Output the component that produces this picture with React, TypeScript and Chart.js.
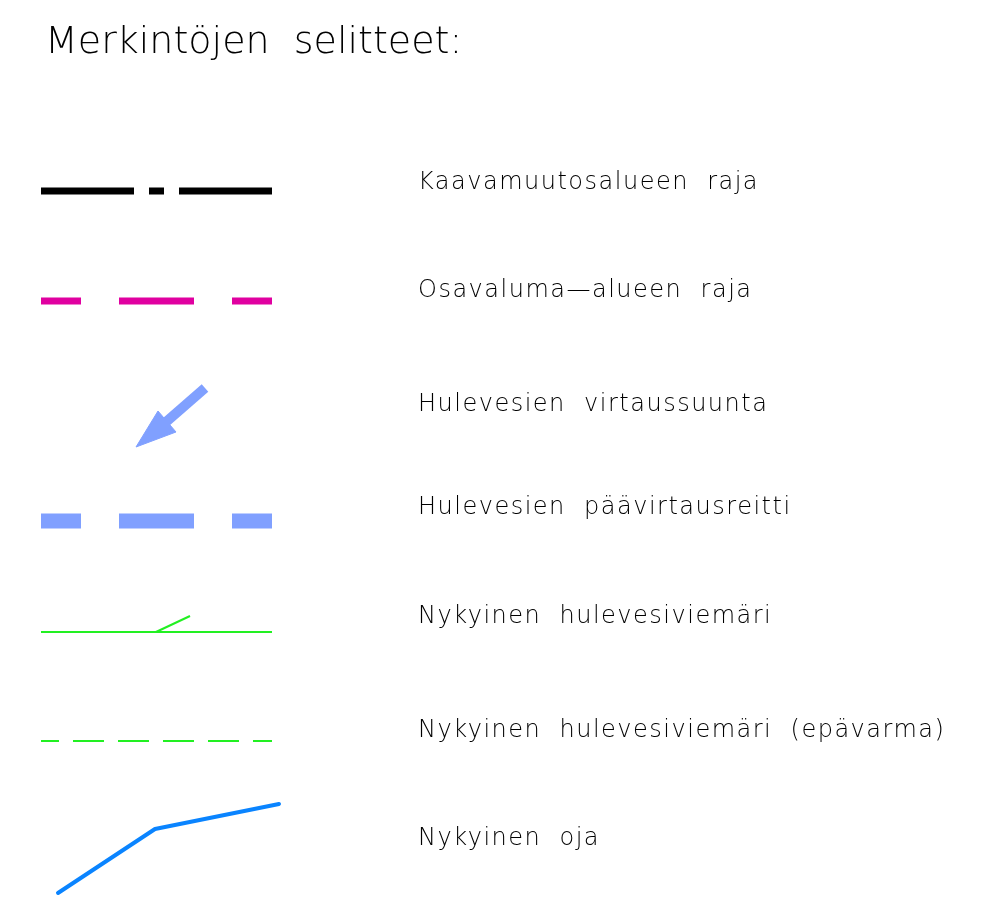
import React, { useEffect, useRef } from "react";
import { Chart, registerables } from "chart.js";

Chart.register(...registerables);

// ---- Text content ----
const titleText = "Merkintöjen  selitteet:";
const labelTexts = [
  "Kaavamuutosalueen  raja",
  "Osavaluma—alueen  raja",
  "Hulevesien  virtaussuunta",
  "Hulevesien  päävirtausreitti",
  "Nykyinen  hulevesiviemäri",
  "Nykyinen  hulevesiviemäri  (epävarma)",
  "Nykyinen  oja",
];
// label anchor (x, baseline y) in legend coordinates
const labelX = 418;
const labelBaselines = [189, 297, 411, 514, 623, 737, 845];
const titleAnchor = { x: 45, y: 53 };

// ---- Symbol geometry (legend coordinate space) ----
const planBoundary = [
  { x: 41, y: 191 },
  { x: 272, y: 191 },
];
const subCatchmentBoundary = [
  { x: 41, y: 301 },
  { x: 272, y: 301 },
];
const flowArrowShaft = [
  { x: 205, y: 388 },
  { x: 166, y: 422 },
];
const flowArrowHead = [
  { x: 136, y: 447 },
  { x: 158, y: 411 },
  { x: 176, y: 432 },
  { x: 136, y: 447 },
];
const mainFlowRoute = [
  { x: 41, y: 521 },
  { x: 272, y: 521 },
];
const stormSewer = [
  { x: 41, y: 632 },
  { x: 272, y: 632 },
];
const stormSewerBranch = [
  { x: 156, y: 632 },
  { x: 190, y: 616 },
];
const stormSewerUncertain = [
  { x: 41, y: 741 },
  { x: 272, y: 741 },
];
const ditch = [
  { x: 58, y: 893 },
  { x: 155, y: 829 },
  { x: 279, y: 804 },
];

const W = 981;
const H = 902;

export default function App() {
  const canvasRef = useRef<HTMLCanvasElement | null>(null);

  useEffect(() => {
    document.body.style.margin = "0";
    const canvas = canvasRef.current;
    if (!canvas) return;

    const textPlugin = {
      id: "legendTexts",
      afterDraw(chart: any) {
        const ctx = chart.ctx as CanvasRenderingContext2D;
        const xs = chart.scales.x;
        const ys = chart.scales.y;
        ctx.save();
        ctx.fillStyle = "#000000";
        ctx.textBaseline = "alphabetic";
        ctx.textAlign = "left";
        ctx.font = '200 38px "DejaVu Sans", sans-serif';
        (ctx as any).letterSpacing = "0px";
        ctx.fillText(titleText, xs.getPixelForValue(titleAnchor.x), ys.getPixelForValue(titleAnchor.y));
        ctx.font = '200 24px "DejaVu Sans", sans-serif';
        (ctx as any).letterSpacing = "1.5px";
        labelTexts.forEach((t, i) => {
          ctx.fillText(t, xs.getPixelForValue(labelX), ys.getPixelForValue(labelBaselines[i]));
        });
        ctx.restore();
      },
    };

    const base = { showLine: true, pointRadius: 0, pointHoverRadius: 0, fill: false, tension: 0 };

    const chart = new Chart(canvas, {
      type: "scatter",
      data: {
        datasets: [
          { ...base, label: "Kaavamuutosalueen raja", data: planBoundary, borderColor: "#000000", borderWidth: 7, borderDash: [93, 15, 15, 15] },
          { ...base, label: "Osavaluma-alueen raja", data: subCatchmentBoundary, borderColor: "#e000a0", borderWidth: 7, borderDash: [75, 38], borderDashOffset: 35 },
          { ...base, label: "Virtaussuunta (varsi)", data: flowArrowShaft, borderColor: "#80a0ff", borderWidth: 10 },
          { ...base, label: "Virtaussuunta (kärki)", data: flowArrowHead, borderColor: "#80a0ff", backgroundColor: "#80a0ff", borderWidth: 1, fill: "shape" },
          { ...base, label: "Päävirtausreitti", data: mainFlowRoute, borderColor: "#80a0ff", borderWidth: 15, borderDash: [75, 38], borderDashOffset: 35 },
          { ...base, label: "Hulevesiviemäri", data: stormSewer, borderColor: "#22f022", borderWidth: 2 },
          { ...base, label: "Hulevesiviemäri (haara)", data: stormSewerBranch, borderColor: "#22f022", borderWidth: 2 },
          { ...base, label: "Hulevesiviemäri (epävarma)", data: stormSewerUncertain, borderColor: "#22f022", borderWidth: 2, borderDash: [31, 14], borderDashOffset: 13 },
          { ...base, label: "Oja", data: ditch, borderColor: "#0a84ff", borderWidth: 4, borderJoinStyle: "round", borderCapStyle: "round" },
        ] as any,
      },
      options: {
        responsive: false,
        animation: false,
        devicePixelRatio: 1,
        layout: { padding: 0 },
        events: [],
        scales: {
          x: { type: "linear", min: 0, max: W, display: false },
          y: { type: "linear", min: 0, max: H, reverse: true, display: false },
        },
        plugins: {
          legend: { display: false },
          tooltip: { enabled: false },
          title: { display: false },
        },
      } as any,
      plugins: [textPlugin],
    });

    return () => chart.destroy();
  }, []);

  return (
    <div style={{ position: "absolute", left: 0, top: 0, width: W, height: H, background: "#ffffff" }}>
      <canvas ref={canvasRef} width={W} height={H} style={{ display: "block", width: W, height: H }} />
    </div>
  );
}
